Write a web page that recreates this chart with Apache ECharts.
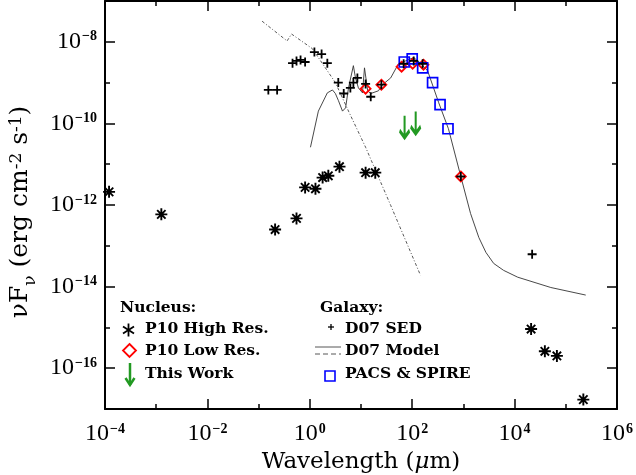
<!DOCTYPE html>
<html>
<head>
<meta charset="utf-8">
<script src="https://cdn.jsdelivr.net/npm/echarts@6/dist/echarts.min.js"></script>
<style>
  html, body { margin: 0; padding: 0; background: #fff; }
  #chart { width: 636px; height: 475px; }
</style>
</head>
<body>
<div id="chart"></div>
<script>
// wavelengths in micron, fluxes nuFnu in erg cm^-2 s^-1
var highResWave = [1.2e-4, 1.26e-3, 0.21, 0.55, 0.81, 1.29, 1.78, 2.3, 3.8, 12.3, 19, 2.1e4, 3.9e4, 6.7e4, 2.2e5];
var highResFlux = [2.1e-12, 5.9e-13, 2.5e-13, 4.7e-13, 2.7e-12, 2.5e-12, 4.7e-12, 5.2e-12, 8.7e-12, 6.2e-12, 6.2e-12, 9.1e-16, 2.6e-16, 2.0e-16, 1.7e-17];

var lowResWave = [12.3, 25, 62, 102, 166, 890];
var lowResFlux = [7.1e-10, 8.9e-10, 2.45e-9, 2.9e-9, 2.75e-9, 5.0e-12];

var limitWave = [71, 117];
var limitFlux = [1.55e-10, 1.95e-10];

var sedWave = [0.155, 0.23, 0.46, 0.55, 0.66, 0.81, 1.23, 1.70, 2.2, 3.6, 4.6, 6.2, 7.1, 8.5, 12.3, 15.5, 25, 68, 107, 160, 890, 2.2e4];
var sedFlux = [6.6e-10, 6.6e-10, 3.0e-9, 3.4e-9, 3.6e-9, 3.2e-9, 5.6e-9, 5.0e-9, 3.0e-9, 1.0e-9, 5.4e-10, 7.4e-10, 1.0e-9, 1.3e-9, 9.3e-10, 4.5e-10, 8.9e-10, 2.9e-9, 3.4e-9, 2.9e-9, 5.0e-12, 6.2e-14];

var herschelWave = [70, 100, 160, 250, 350, 500];
var herschelFlux = [3.2e-9, 3.8e-9, 2.3e-9, 1.0e-9, 2.9e-10, 7.4e-11];

var dustWave = [1.03, 1.47, 2.2, 2.77, 3.16, 3.63, 4.35, 5.0, 5.7, 7.1, 7.8, 8.9, 10.7, 11.7, 13.5, 15.5, 21.9, 26.3, 38, 54, 74, 107, 145, 200, 330, 510, 890, 1380, 2000, 2750, 3900, 6100, 1.15e4, 5.1e4, 2.45e5];
var dustFlux = [2.6e-11, 2.0e-10, 5.6e-10, 6.6e-10, 5.4e-10, 3.6e-10, 2.0e-10, 2.4e-10, 7.4e-10, 2.6e-9, 1.3e-9, 7.4e-10, 5.6e-10, 2.3e-9, 6.3e-10, 5.4e-10, 6.3e-10, 8.9e-10, 1.3e-9, 2.9e-9, 3.4e-9, 4.1e-9, 3.0e-9, 1.95e-9, 3.2e-10, 7.4e-11, 5.0e-12, 6.2e-13, 1.6e-13, 6.9e-14, 3.7e-14, 2.5e-14, 1.7e-14, 9.5e-15, 6.2e-15];

var starWave = [0.117, 0.36, 0.44, 1.12, 3.16, 5.7, 12.3, 38, 145];
var starFlux = [3.2e-8, 1.05e-8, 1.55e-8, 6.8e-9, 1.0e-9, 2.0e-10, 2.6e-11, 9.8e-13, 1.9e-14];

var yTicksMajor = [-16, -14, -12, -10, -8];
var yTicksMinor = [-17, -15, -13, -11, -9, -7];

var FONT = 'DejaVu Serif';
var NUMFONT = 'Liberation Serif';
var LEGFONT = 'bold 15.5px "DejaVu Serif"';
var ASTER = 'path://M5,0L5,10M0,5L10,5M1.5,1.5L8.5,8.5M1.5,8.5L8.5,1.5';
var PLUS = 'path://M0,5L10,5M5,0L5,10';
var ARROW = 'path://M5,0L5,22M0.5,15L5,22L9.5,15';

function pairs(w, f) {
  return w.map(function (v, i) { return [Math.log10(v), Math.log10(f[i])]; });
}

var supRich = {
  b: { fontFamily: NUMFONT, fontSize: 24, color: '#000' },
  s: { fontFamily: NUMFONT, fontSize: 14, fontWeight: 'bold', color: '#000', verticalAlign: 'top', padding: [0, 0, 0, 1] }
};

function powLabel(v) {
  return '{b|10}{s|' + String(v).replace('-', '\u2212') + '}';
}

var chart = echarts.init(document.getElementById('chart'), null, { renderer: 'canvas' });

var tickBase = { show: true, inside: true, lineStyle: { color: '#000', width: 1.5 } };
var hiddenLine = { show: false, onZero: false };
var frameLine = { show: true, onZero: false, lineStyle: { color: '#000', width: 2 } };

var option = {
  backgroundColor: '#fff',
  animation: false,
  grid: { left: 105, right: 19, top: 1, bottom: 66, show: false, containLabel: false, outerBoundsMode: 'none' },
  xAxis: [
    {
      type: 'value', position: 'bottom', min: -4, max: 6, interval: 2,
      axisLine: frameLine,
      axisTick: Object.assign({}, tickBase, { length: 10 }),
      minorTick: { show: true, splitNumber: 2, length: 5, lineStyle: { color: '#000', width: 1.5 } },
      splitLine: { show: false },
      axisLabel: { margin: 13, formatter: powLabel, rich: supRich },
      name: '{a|Wavelength (}{mu|μ}{a|m)}',
      nameLocation: 'middle', nameGap: 40,
      nameTextStyle: {
        rich: {
          a: { fontFamily: FONT, fontSize: 23, color: '#000' },
          mu: { fontFamily: FONT, fontSize: 23, fontStyle: 'italic', color: '#000' }
        }
      }
    },
    {
      type: 'value', position: 'top', min: -4, max: 6, interval: 2,
      axisLine: frameLine,
      axisTick: Object.assign({}, tickBase, { length: 10 }),
      minorTick: { show: true, splitNumber: 2, length: 5, lineStyle: { color: '#000', width: 1.5 } },
      splitLine: { show: false },
      axisLabel: { show: false }
    }
  ],
  yAxis: [
    {
      type: 'value', position: 'left', min: -17, max: -7, interval: 1,
      axisLine: frameLine,
      axisTick: Object.assign({}, tickBase, { length: 10, customValues: yTicksMajor }),
      splitLine: { show: false },
      axisLabel: { margin: 8, customValues: yTicksMajor, formatter: powLabel, rich: supRich },
      name: '{a|νF}{sub|ν}{a| (erg cm}{sup|-2}{a| s}{sup|-1}{a|)}',
      nameLocation: 'middle', nameRotate: 90, nameGap: 72,
      nameTextStyle: {
        padding: [0, 14, 0, 0],
        rich: {
          a: { fontFamily: FONT, fontSize: 25, color: '#000' },
          sub: { fontFamily: FONT, fontSize: 17, color: '#000', verticalAlign: 'bottom', padding: [0, 0, -6, 0] },
          sup: { fontFamily: FONT, fontSize: 17, color: '#000', verticalAlign: 'top' }
        }
      }
    },
    {
      type: 'value', position: 'right', min: -17, max: -7, interval: 1,
      axisLine: frameLine,
      axisTick: Object.assign({}, tickBase, { length: 10, customValues: yTicksMajor }),
      splitLine: { show: false },
      axisLabel: { show: false }
    },
    {
      type: 'value', position: 'left', min: -17, max: -7, interval: 1,
      axisLine: hiddenLine,
      axisTick: Object.assign({}, tickBase, { length: 5, customValues: yTicksMinor }),
      splitLine: { show: false },
      axisLabel: { show: false }
    },
    {
      type: 'value', position: 'right', min: -17, max: -7, interval: 1,
      axisLine: hiddenLine,
      axisTick: Object.assign({}, tickBase, { length: 5, customValues: yTicksMinor }),
      splitLine: { show: false },
      axisLabel: { show: false }
    }
  ],
  series: [
    {
      name: 'D07 Model stars', type: 'line', data: pairs(starWave, starFlux),
      showSymbol: false, silent: true, z: 1,
      lineStyle: { color: '#444', width: 0.9, type: [3, 2, 1, 2] }
    },
    {
      name: 'D07 Model dust', type: 'line', data: pairs(dustWave, dustFlux),
      showSymbol: false, silent: true, z: 1,
      lineStyle: { color: '#333', width: 0.9 }
    },
    {
      name: 'P10 Low Res.', type: 'scatter', data: pairs(lowResWave, lowResFlux),
      symbol: 'diamond', symbolSize: 10, silent: true, z: 2,
      itemStyle: { color: 'rgba(0,0,0,0)', borderColor: '#ff0000', borderWidth: 1.8, opacity: 1 }
    },
    {
      name: 'PACS & SPIRE', type: 'scatter', data: pairs(herschelWave, herschelFlux),
      symbol: 'rect', symbolSize: 10, silent: true, z: 3,
      itemStyle: { color: 'rgba(0,0,0,0)', borderColor: '#0000ff', borderWidth: 1.7, opacity: 1 }
    },
    {
      name: 'D07 SED', type: 'scatter', data: pairs(sedWave, sedFlux),
      symbol: PLUS, symbolSize: 9, silent: true, z: 4,
      itemStyle: { color: 'rgba(0,0,0,0)', borderColor: '#000', borderWidth: 1.8, opacity: 1 }
    },
    {
      name: 'P10 High Res.', type: 'scatter', data: pairs(highResWave, highResFlux),
      symbol: ASTER, symbolSize: 12, silent: true, z: 5,
      itemStyle: { color: 'rgba(0,0,0,0)', borderColor: '#000', borderWidth: 1.9, opacity: 1 }
    },
    {
      name: 'This Work', type: 'scatter', data: pairs(limitWave, limitFlux),
      symbol: ARROW, symbolSize: [10, 22], symbolOffset: [0, '50%'], silent: true, z: 5,
      itemStyle: { color: 'rgba(0,0,0,0)', borderColor: '#229922', borderWidth: 3, opacity: 1 }
    }
  ],
  graphic: [
    { type: 'text', left: 120, top: 300, style: { text: 'Nucleus:', font: LEGFONT, fill: '#000' } },
    { type: 'line', shape: { x1: 128.5, y1: 323.5, x2: 128.5, y2: 336.5 }, style: { stroke: '#000', lineWidth: 1.8 } },
    { type: 'line', shape: { x1: 123, y1: 326.5, x2: 134, y2: 333.5 }, style: { stroke: '#000', lineWidth: 1.8 } },
    { type: 'line', shape: { x1: 123, y1: 333.5, x2: 134, y2: 326.5 }, style: { stroke: '#000', lineWidth: 1.8 } },
    { type: 'text', left: 145, top: 321, style: { text: 'P10 High Res.', font: LEGFONT, fill: '#000' } },
    { type: 'polygon', shape: { points: [[129.5, 344], [136, 350.5], [129.5, 357], [123, 350.5]] }, style: { fill: 'none', stroke: '#ff0000', lineWidth: 1.8 } },
    { type: 'text', left: 145, top: 343, style: { text: 'P10 Low Res.', font: LEGFONT, fill: '#000' } },
    { type: 'polyline', shape: { points: [[130, 363], [130, 385]] }, style: { stroke: '#229922', lineWidth: 2.5 } },
    { type: 'polyline', shape: { points: [[125.5, 378], [130, 385], [134.5, 378]] }, style: { stroke: '#229922', lineWidth: 2.5, fill: 'none' } },
    { type: 'text', left: 145, top: 366, style: { text: 'This Work', font: LEGFONT, fill: '#000' } },

    { type: 'text', left: 320, top: 300, style: { text: 'Galaxy:', font: LEGFONT, fill: '#000' } },
    { type: 'line', shape: { x1: 328, y1: 327, x2: 334, y2: 327 }, style: { stroke: '#000', lineWidth: 1.3 } },
    { type: 'line', shape: { x1: 331, y1: 324, x2: 331, y2: 330 }, style: { stroke: '#000', lineWidth: 1.3 } },
    { type: 'text', left: 345, top: 321, style: { text: 'D07 SED', font: LEGFONT, fill: '#000' } },
    { type: 'line', shape: { x1: 315, y1: 347, x2: 341, y2: 347 }, style: { stroke: '#444', lineWidth: 0.9 } },
    { type: 'line', shape: { x1: 315, y1: 354, x2: 341, y2: 354 }, style: { stroke: '#444', lineWidth: 0.9, lineDash: [5, 3] } },
    { type: 'text', left: 345, top: 343, style: { text: 'D07 Model', font: LEGFONT, fill: '#000' } },
    { type: 'rect', shape: { x: 325, y: 371, width: 10, height: 10 }, style: { fill: 'none', stroke: '#0000ff', lineWidth: 1.6 } },
    { type: 'text', left: 345, top: 366, style: { text: 'PACS & SPIRE', font: LEGFONT, fill: '#000' } }
  ]
};

chart.setOption(option);
</script>
</body>
</html>
